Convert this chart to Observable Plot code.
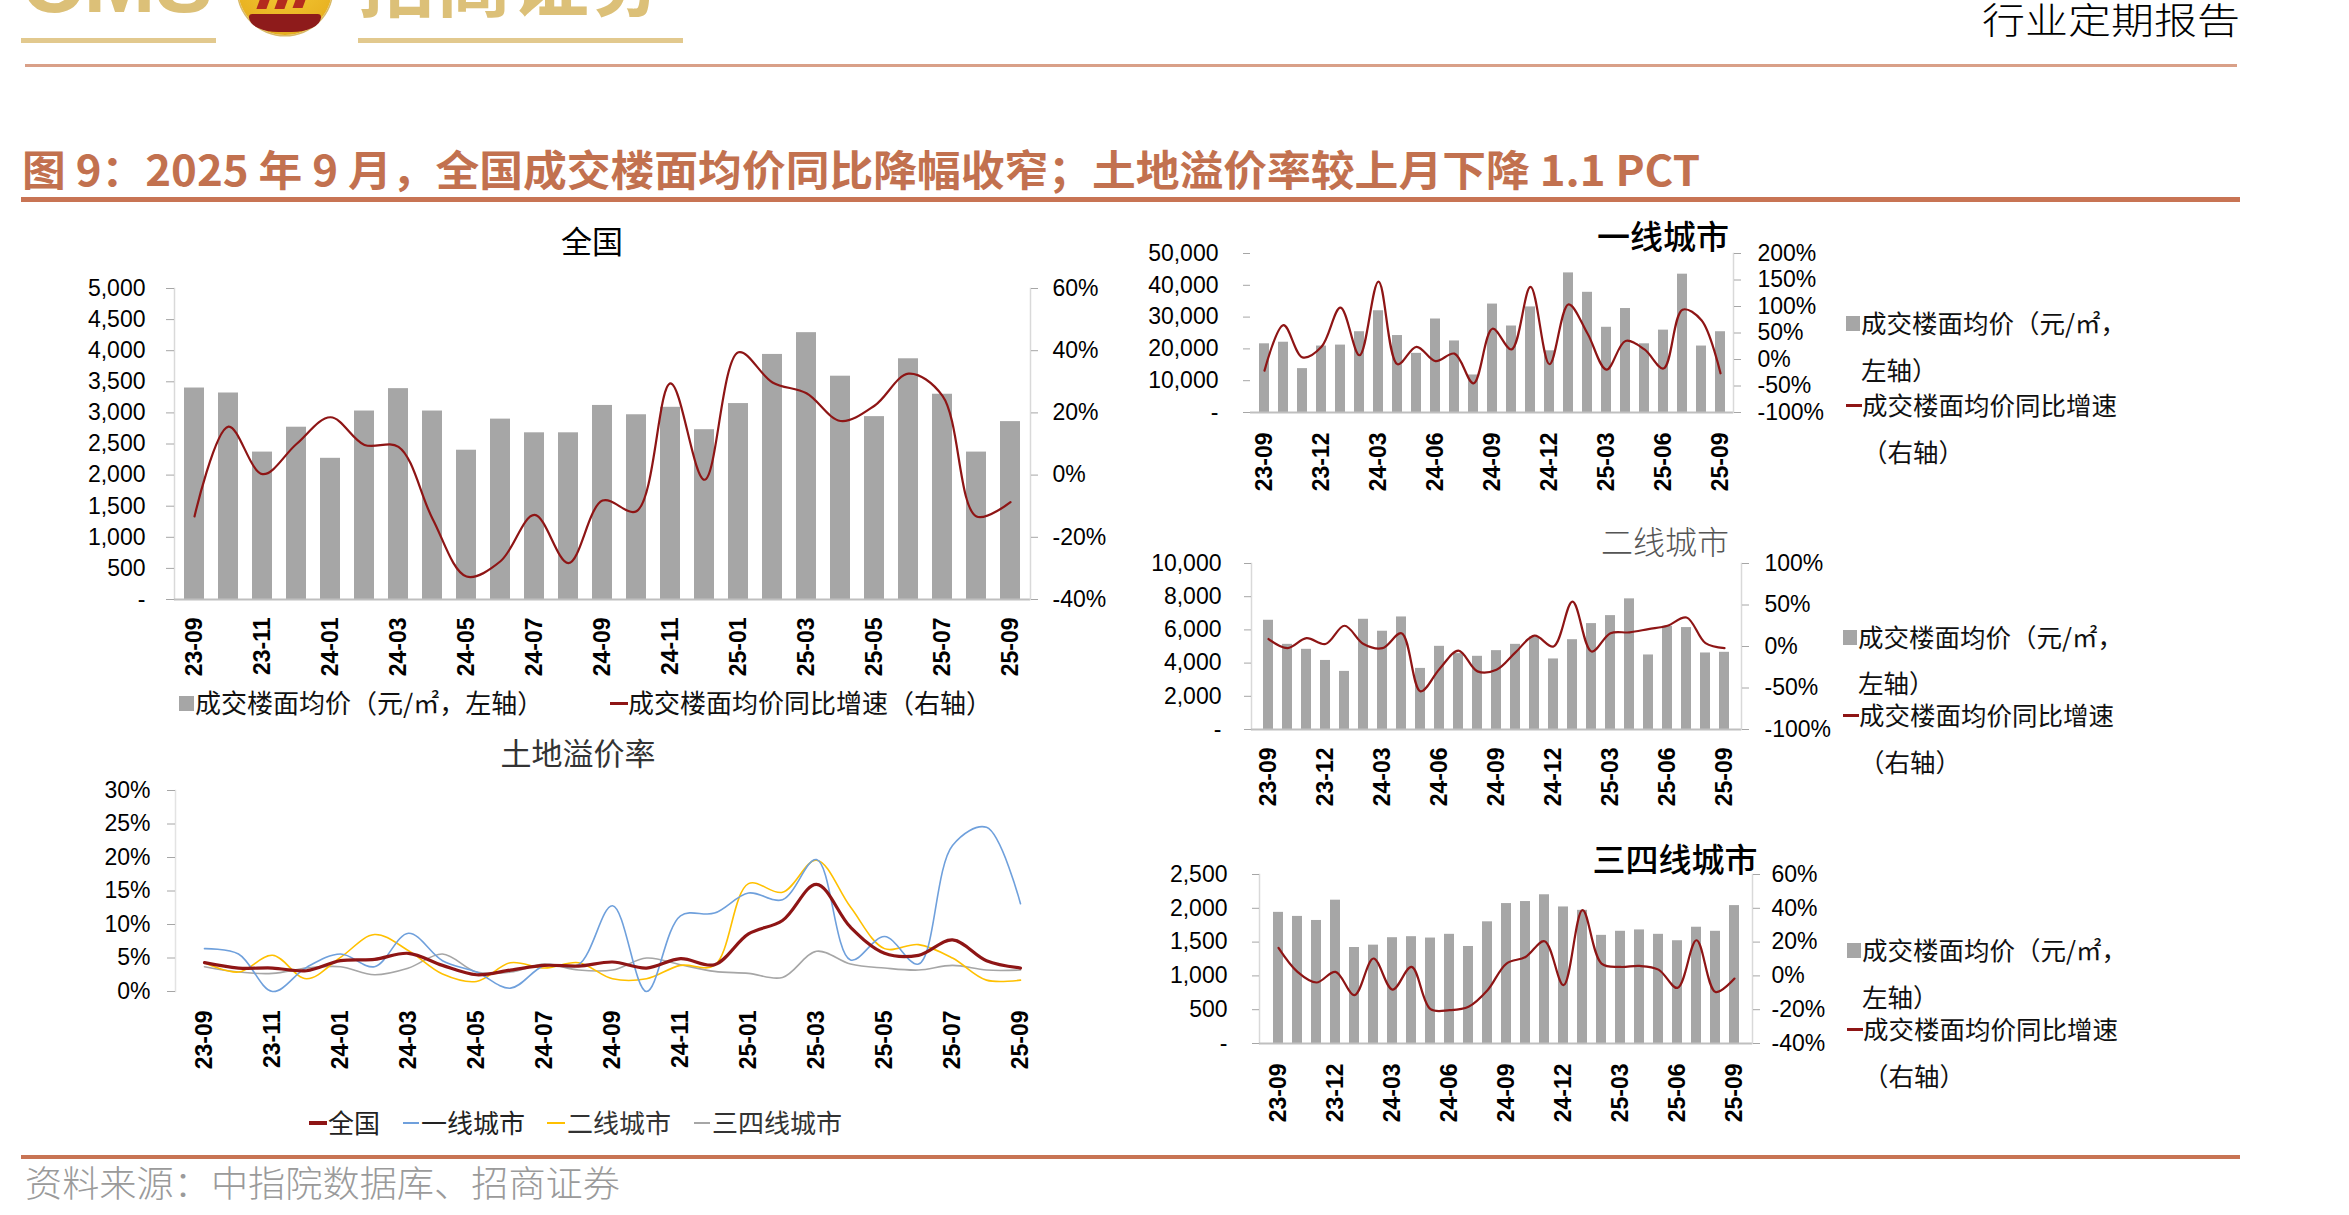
<!DOCTYPE html>
<html><head><meta charset="utf-8">
<script src="https://cdn.jsdelivr.net/npm/d3@7"></script>
<script src="https://cdn.jsdelivr.net/npm/@observablehq/plot@0.6"></script>
<style>
html,body{margin:0;padding:0;background:#fff;}
body{width:2349px;height:1215px;position:relative;overflow:hidden;font-family:"Noto Sans CJK SC","Liberation Sans",sans-serif;}
#root{position:absolute;left:0;top:0;width:2349px;height:1215px;}
.t{position:absolute;white-space:nowrap;line-height:1;}
.hl{position:absolute;}
</style></head><body>
<div id="root"></div>
<script>
// ---------- data ----------
const months = ["23-09","23-10","23-11","23-12","24-01","24-02","24-03","24-04","24-05","24-06","24-07","24-08","24-09","24-10","24-11","24-12","25-01","25-02","25-03","25-04","25-05","25-06","25-07","25-08","25-09"];
const ticksEvery2 = ["23-09","23-11","24-01","24-03","24-05","24-07","24-09","24-11","25-01","25-03","25-05","25-07","25-09"];
const ticksEvery3 = ["23-09","23-12","24-03","24-06","24-09","24-12","25-03","25-06","25-09"];

// 全国
const natPrice = [3400,3320,2370,2770,2270,3030,3390,3030,2400,2900,2680,2680,3120,2970,3090,2730,3150,3940,4290,3590,2940,3870,3300,2370,2860];
const natYoY   = [-13.3,15.6,0.3,10,18.6,9.7,9.1,-14,-32.6,-27.7,-12.8,-28.3,-8.2,-11.6,29.5,-1.5,39.5,29.8,26.3,17.4,22.3,32.6,25.5,-13.3,-8.7];
// 一线城市
const t1Price = [21600,22100,13800,20900,21200,25400,32000,24200,18600,29400,22500,11800,34100,27200,33200,19400,43900,37800,26800,32700,21600,25900,43500,20900,25400];
const t1YoY   = [-21,65,4,24,98,8,147,-9,24,-3,11,-45,58,19,137,-9,104,49,-19,35,19,-17,94,74,-26];
// 二线城市
const t2Price = [6580,5130,4830,4160,3500,6640,5920,6780,3680,5010,4570,4410,4750,5130,5570,4250,5410,6380,6860,7870,4490,6220,6140,4610,4650];
const t2YoY   = [9,-2,10,3,25,3,-2,16,-54,-27,-5,-30,-28,-7,13,0,54,-6,16,17,21,25,35,4,-2];
// 三四线城市
const t34Price = [1940,1880,1820,2120,1420,1455,1565,1580,1560,1615,1435,1800,2070,2100,2200,2020,1970,1600,1660,1680,1615,1520,1720,1660,2040];
const t34YoY   = [16.6,2.4,-3.9,2.4,-11.4,10.3,-8.1,5.3,-19.7,-20.3,-18.3,-8.5,7.3,11.2,20.5,-5.5,38.9,7.3,5.3,5.9,3.7,-7.1,21.1,-9.5,-1.6];
// 土地溢价率 (%)
const premNat = [4.3,3.5,3.5,3.1,4.6,4.8,5.7,3.9,2.5,3.2,3.9,3.8,4.4,3.5,4.9,4.0,8.6,10.6,16.0,9.6,5.7,5.4,7.7,4.6,3.5];
const premT1  = [6.4,5.6,0.0,3.6,5.6,3.7,8.7,4.6,2.9,0.5,3.9,4.0,12.8,0.0,11.3,11.7,14.7,13.7,19.7,4.7,8.2,4.1,21.8,24.5,13.1];
const premT2  = [4.3,2.9,5.4,1.9,5.1,8.5,6.1,2.6,1.5,4.3,3.5,4.3,1.9,1.9,3.9,3.9,16.1,14.8,19.6,12.6,6.4,7.0,5.0,1.7,1.7];
const premT34 = [3.7,2.9,2.7,3.5,3.7,2.5,3.5,5.6,2.9,2.9,4.1,3.2,3.2,5.0,4.0,3.0,2.7,2.1,6.0,4.1,3.5,3.2,3.9,3.2,3.2];

// ---------- helpers ----------
const root = document.getElementById("root");
const NUMFONT = '"Liberation Sans", Arial, "Noto Sans CJK SC", sans-serif';
const CJK = '"Noto Sans CJK SC", "Liberation Sans", sans-serif';
const RED = "#8e1515";
const GRAYBAR = "#a6a6a6";

function place(el, left, top){ el.style.position="absolute"; el.style.left=left+"px"; el.style.top=top+"px"; root.appendChild(el); return el; }
function txt(str, x, yc, fs, o={}){
  const d=document.createElement("div"); d.className="t"; d.textContent=str;
  d.style.fontSize=fs+"px"; d.style.fontFamily=o.font||CJK; d.style.color=o.color||"#000";
  d.style.fontWeight=o.weight||400; d.style.left=x+"px"; d.style.top=(yc-0.556*fs)+"px";
  root.appendChild(d);
  if(o.center){ d.style.transform="translateX(-50%)"; }
  if(o.fit){ const w=d.getBoundingClientRect().width; d.style.transformOrigin="0 0"; d.style.transform=`scaleX(${o.fit/w})`; }
  return d;
}
function box(x,y,w,h,bg,extra){ const d=document.createElement("div"); d.className="hl"; d.style.left=x+"px"; d.style.top=y+"px"; d.style.width=w+"px"; d.style.height=h+"px"; d.style.background=bg; if(extra) Object.assign(d.style,extra); root.appendChild(d); return d; }

function dualPanel(c){
  const data = months.map((m,i)=>({m, p:c.price[i], g:c.yoy[i]}));
  const base = {width:c.width, height:c.height, marginLeft:c.mL, marginRight:c.mR, marginTop:c.mT, marginBottom:c.mB,
    style:{background:"transparent", fontFamily:NUMFONT, color:"#000", overflow:"visible", maxWidth:"none"}};
  const bars = Plot.plot({...base,
    x:{type:"band", domain:months, paddingInner:c.pad, paddingOuter:c.pad/2, axis:null},
    y:{domain:c.yDom, axis:null},
    marks:[
      c.leftLine ? Plot.frame({anchor:"left", stroke:"#d9d9d9", strokeWidth:1.5}) : null,
      Plot.barY(data,{x:"m", y:"p", fill:GRAYBAR}),
      Plot.ruleY([0],{stroke:"#bfbfbf", strokeWidth:2}),
      Plot.axisY(c.yTicks,{anchor:"left", label:null, tickSize:c.lTick, tickPadding:c.lPad, stroke:"#a6a6a6", fill:"#000", fontSize:c.fs,
        tickFormat:d=> d===0 ? "-" : d3.format(",")(d)}),
      Plot.axisX(c.xTicks,{anchor:"bottom", label:null, tickSize:0, tickPadding:c.xPad, tickRotate:-90, fill:"#000", fontSize:c.fs, fontWeight:"bold"})
    ]});
  const line = Plot.plot({...base,
    x:{type:"point", domain:months, padding:0.5, axis:null},
    y:{domain:c.y2Dom, axis:null},
    marks:[
      Plot.frame({anchor:"right", stroke:"#d9d9d9", strokeWidth:1.5}),
      Plot.line(data,{x:"m", y:"g", stroke:RED, strokeWidth:2.2, curve:"catmull-rom"}),
      Plot.axisY(c.y2Ticks,{anchor:"right", label:null, tickSize:c.rTick, tickPadding:c.rPad, stroke:"#a6a6a6", fill:"#000", fontSize:c.fs,
        tickFormat:d=> d+"%"})
    ]});
  place(bars, c.left, c.top);
  place(line, c.left, c.top);
}

// ---------- header ----------
txt("CMS", 21, -13, 86, {font:NUMFONT, weight:700, color:"#dcc078", fit:192});
box(238,-57,94,92,"radial-gradient(circle at 50% 30%,#f6cf3a 0%,#e9b322 70%,#d9a21c 100%)",{borderRadius:"50%", boxShadow:"0 0 0 1.5px #d8b968"});
box(249,14,72,18,"#8e1b1b",{borderRadius:"4px 4px 36px 36px / 4px 4px 18px 18px"});
box(258,0,10,9,"#b42a1e",{transform:"skewX(-20deg)"});
box(276,0,10,9,"#b42a1e",{transform:"skewX(-20deg)"});
box(294,0,10,8,"#b42a1e",{transform:"skewX(-20deg)"});
txt("招商证券", 358, -18, 77, {weight:700, color:"#dcc078", fit:308});
box(21,38,195,5,"#e2c98e");
box(358,38,325,5,"#e2c98e");
txt("行业定期报告", 1982, 20, 36, {weight:300, color:"#000", fit:258});
box(25,64,2212,2.5,"#d9a088");
txt("图 9：2025 年 9 月，全国成交楼面均价同比降幅收窄；土地溢价率较上月下降 1.1 PCT", 22, 170, 42, {weight:700, color:"#c2714f", fit:1678});
box(21,197,2219,5,"#c87454");

// ---------- panel 1: 全国 ----------
txt("全国", 592, 241, 31, {center:true});
dualPanel({left:0, top:250, width:1100, height:450, mL:174, mR:70, mT:38, mB:101,
  price:natPrice, yoy:natYoY, yDom:[0,5000], yTicks:d3.range(0,5001,500), y2Dom:[-40,60], y2Ticks:d3.range(-40,61,20),
  xTicks:ticksEvery2, pad:0.42, fs:23, lTick:8, lPad:21, rTick:7, rPad:15, xPad:18, leftLine:true});
box(179,696,15,15,GRAYBAR);
txt("成交楼面均价（元/㎡，左轴）", 195, 703, 26, {color:"#111"});
box(610,702,18,3,RED);
txt("成交楼面均价同比增速（右轴）", 628, 703, 26, {color:"#111"});

// ---------- panel 5: 土地溢价率 ----------
txt("土地溢价率", 578, 753, 31, {center:true, color:"#333"});
{
  const mk = (arr)=> months.map((m,i)=>({m, v:arr[i]}));
  const p5 = Plot.plot({width:1100, height:320, marginLeft:175, marginRight:52, marginTop:20, marginBottom:99,
    style:{background:"transparent", fontFamily:NUMFONT, color:"#000", overflow:"visible", maxWidth:"none"},
    x:{type:"point", domain:months, padding:0.5, axis:null},
    y:{domain:[0,30], axis:null},
    marks:[
      Plot.frame({anchor:"left", stroke:"#e3e3e3", strokeWidth:1.5}),
      Plot.line(mk(premT34),{x:"m", y:"v", stroke:"#a6a6a6", strokeWidth:1.6, curve:"catmull-rom"}),
      Plot.line(mk(premT2),{x:"m", y:"v", stroke:"#ffc000", strokeWidth:1.6, curve:"catmull-rom"}),
      Plot.line(mk(premT1),{x:"m", y:"v", stroke:"#6fa0dc", strokeWidth:1.6, curve:"catmull-rom"}),
      Plot.line(mk(premNat),{x:"m", y:"v", stroke:RED, strokeWidth:3.2, curve:"catmull-rom"}),
      Plot.axisY(d3.range(0,31,5),{anchor:"left", label:null, tickSize:8, tickPadding:17, stroke:"#a6a6a6", fill:"#000", fontSize:23, tickFormat:d=>d+"%"}),
      Plot.axisX(ticksEvery2,{anchor:"bottom", label:null, tickSize:0, tickPadding:19, tickRotate:-90, fill:"#000", fontSize:23, fontWeight:"bold"})
    ]});
  place(p5, 0, 770);
}
box(309,1121,18,4,RED);
txt("全国", 328, 1123, 26, {color:"#222"});
box(403,1122,16,2,"#6fa0dc");
txt("一线城市", 421, 1123, 26, {color:"#222"});
box(547,1122,18,2,"#ffc000");
txt("二线城市", 567, 1123, 26, {color:"#333"});
box(694,1122,16,2,"#a6a6a6");
txt("三四线城市", 712, 1123, 26, {color:"#333"});

// ---------- panel 2: 一线城市 ----------
txt("一线城市", 1663, 237, 33, {center:true, weight:500});
dualPanel({left:1100, top:240, width:760, height:270, mL:150, mR:127, mT:13, mB:98,
  price:t1Price, yoy:t1YoY, yDom:[0,50000], yTicks:d3.range(0,50001,10000), y2Dom:[-100,200], y2Ticks:d3.range(-100,201,50),
  xTicks:ticksEvery3, pad:0.5, fs:23, lTick:7, lPad:25, rTick:7, rPad:17, xPad:20, leftLine:false});

// ---------- panel 3: 二线城市 ----------
txt("二线城市", 1665, 542, 32, {center:true, weight:300, color:"#555"});
dualPanel({left:1100, top:545, width:760, height:280, mL:151, mR:119, mT:18, mB:96,
  price:t2Price, yoy:t2YoY, yDom:[0,10000], yTicks:d3.range(0,10001,2000), y2Dom:[-100,100], y2Ticks:d3.range(-100,101,50),
  xTicks:ticksEvery3, pad:0.5, fs:23, lTick:7, lPad:23, rTick:7, rPad:16, xPad:18, leftLine:true});

// ---------- panel 4: 三四线城市 ----------
txt("三四线城市", 1675, 860, 33, {center:true, weight:500});
dualPanel({left:1100, top:860, width:760, height:280, mL:159, mR:108, mT:14, mB:97,
  price:t34Price, yoy:t34YoY, yDom:[0,2500], yTicks:d3.range(0,2501,500), y2Dom:[-40,60], y2Ticks:d3.range(-40,61,20),
  xTicks:ticksEvery3, pad:0.5, fs:23, lTick:7, lPad:25, rTick:7, rPad:12, xPad:20, leftLine:true});

// ---------- right-side legends ----------
function sideLegend(x, ys){
  box(x, ys[0]-7, 14, 15, GRAYBAR);
  txt("成交楼面均价（元/㎡，", x+15, ys[0], 25.5, {color:"#111"});
  txt("左轴）", x+15, ys[1], 25.5, {color:"#111"});
  box(x, ys[2]-1, 16, 3, RED);
  txt("成交楼面均价同比增速", x+16, ys[2], 25.5, {color:"#111"});
  txt("（右轴）", x+16, ys[3], 25.5, {color:"#111"});
}
sideLegend(1846, [323,370,405,452]);
sideLegend(1843, [637,683,715,762]);
sideLegend(1847, [950,997,1029,1076]);

// ---------- footer ----------
box(21,1155,2219,4,"#c87454");
txt("资料来源：中指院数据库、招商证券", 25, 1183, 36, {weight:300, color:"#9a9a9a", fit:595});
</script>
</body></html>
